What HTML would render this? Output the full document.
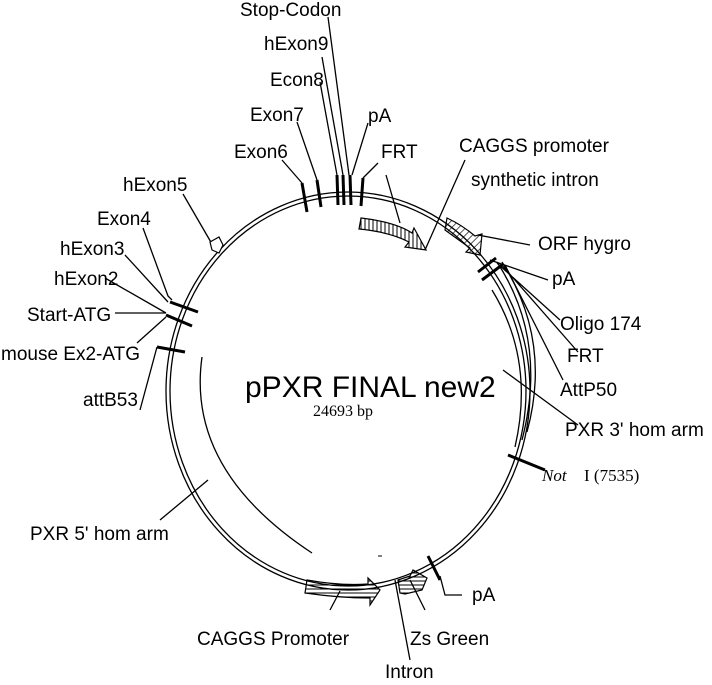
<!DOCTYPE html>
<html><head><style>
body{margin:0;background:#fff}
svg text{font-family:"Liberation Sans",sans-serif;font-size:19px;fill:#000}
</style></head><body>
<svg width="712" height="680" viewBox="0 0 712 680" xmlns="http://www.w3.org/2000/svg">
<defs>
<pattern id="h" width="5" height="5" patternUnits="userSpaceOnUse" patternTransform="rotate(45)"><line x1="0" y1="0" x2="0" y2="5" stroke="#000" stroke-width="1.3"/></pattern>
<pattern id="v" width="4" height="4" patternUnits="userSpaceOnUse"><line x1="1" y1="0" x2="1" y2="4" stroke="#000" stroke-width="1"/></pattern>
<pattern id="hz" width="4" height="4" patternUnits="userSpaceOnUse"><line x1="0" y1="1" x2="4" y2="1" stroke="#000" stroke-width="1"/></pattern>
</defs>
<g fill="none" stroke="#000" stroke-width="1.3">
<ellipse cx="348" cy="391" rx="182" ry="199"/>
<ellipse cx="348" cy="391" rx="178" ry="195"/>
<path d="M202 357 Q186 470 312 553"/>
<path d="M492 290 Q535 360 515 447"/>
<path d="M497 262 Q548 340 522 440"/>
<path d="M502 262 Q552 340 527 432"/>
<g stroke-width="3">
<line x1="302" y1="183" x2="307" y2="212"/>
<line x1="317" y1="180" x2="321" y2="207"/>
<line x1="337" y1="175" x2="338" y2="205"/>
<line x1="343" y1="175" x2="344" y2="205"/>
<line x1="350" y1="175" x2="351" y2="205"/>
<line x1="363" y1="178" x2="361" y2="206"/>
<line x1="170" y1="302" x2="198" y2="312"/>
<line x1="166" y1="315" x2="192" y2="326"/>
<line x1="157" y1="347" x2="185" y2="352"/>
<line x1="478" y1="272" x2="496" y2="258"/>
<line x1="482" y1="280" x2="502" y2="265"/>
<line x1="508" y1="455" x2="545" y2="470"/>
<line x1="428" y1="556" x2="440" y2="580"/>
</g>
<path d="M328 17 L349 175 M322 57 L343 175 M320 82 L337 175 M297 122 L317 180 M282 160 L302 183 M368 123 L352 175 M378 163 L363 178"/>
<path d="M183 194 L212 244"/>
<path d="M143 228 L168 296 L172 300 M125 255 L168 302 M105 278 L166 313 M115 313 L166 313 M137 343 L166 317 M140 410 L157 347"/>
<path d="M386 175 L400 223 M465 160 L425 250 M530 245 L478 235 M548 280 L490 260 M560 320 L497 263 M578 352 L500 263 M563 380 L505 265 M578 425 L503 370"/>
<path d="M208 480 L160 520 M340 591 L330 610 M395 580 L410 660 M410 580 L425 610 M440 576 L445 595 L462 595"/>
</g>
<path d="M361 218 Q395 222 412 233 L414 228 L426 250 L405 247 L409 242 Q390 232 359 229 Z" fill="url(#v)" stroke="#000" stroke-width="1.2"/>
<path d="M447 218 Q462 225 475 236 L482 234 L480 255 L466 252 L470 248 Q456 238 445 230 Z" fill="url(#h)" stroke="#000" stroke-width="1.2"/>
<path d="M210 242 L219 237 L223 245 L219 253 L212 250 Z" fill="#fff" stroke="#000" stroke-width="1.2"/>
<path d="M307 580 Q340 586 368 584 L368 578 L380 590 L370 605 L370 598 Q340 598 305 593 Z" fill="url(#hz)" stroke="#000" stroke-width="1.2"/>
<path d="M398 580 L410 576 L413 570 L427 578 L422 590 L405 594 L400 593 Z" fill="url(#hz)" stroke="#000" stroke-width="1.2"/>
<line x1="378" y1="556" x2="382" y2="556" stroke="#000"/>
<text x="240" y="16">Stop-Codon</text>
<text x="264" y="50">hExon9</text>
<text x="270" y="86">Econ8</text>
<text x="250" y="121">Exon7</text>
<text x="368" y="122">pA</text>
<text x="234" y="158">Exon6</text>
<text x="381" y="158">FRT</text>
<text x="459" y="152">CAGGS promoter</text>
<text x="471" y="186">synthetic intron</text>
<text x="123" y="191">hExon5</text>
<text x="97" y="225">Exon4</text>
<text x="60" y="255">hExon3</text>
<text x="54" y="285">hExon2</text>
<text x="27" y="321">Start-ATG</text>
<text x="1" y="360">mouse Ex2-ATG</text>
<text x="83" y="406">attB53</text>
<text x="538" y="250">ORF hygro</text>
<text x="552" y="285">pA</text>
<text x="560" y="330">Oligo 174</text>
<text x="567" y="362">FRT</text>
<text x="560" y="396">AttP50</text>
<text x="565" y="436">PXR 3' hom arm</text>
<text x="542" y="481" style="font-family:'Liberation Serif',serif;font-style:italic;font-size:17px">Not</text>
<text x="584" y="481" style="font-family:'Liberation Serif',serif;font-size:17px">I (7535)</text>
<text x="245" y="397" style="font-size:30px">pPXR FINAL new2</text>
<text x="313" y="416" style="font-family:'Liberation Serif',serif;font-size:16px">24693 bp</text>
<text x="30" y="540">PXR 5' hom arm</text>
<text x="472" y="601">pA</text>
<text x="197" y="645">CAGGS Promoter</text>
<text x="410" y="645">Zs Green</text>
<text x="385" y="678">Intron</text>
</svg>
</body></html>
